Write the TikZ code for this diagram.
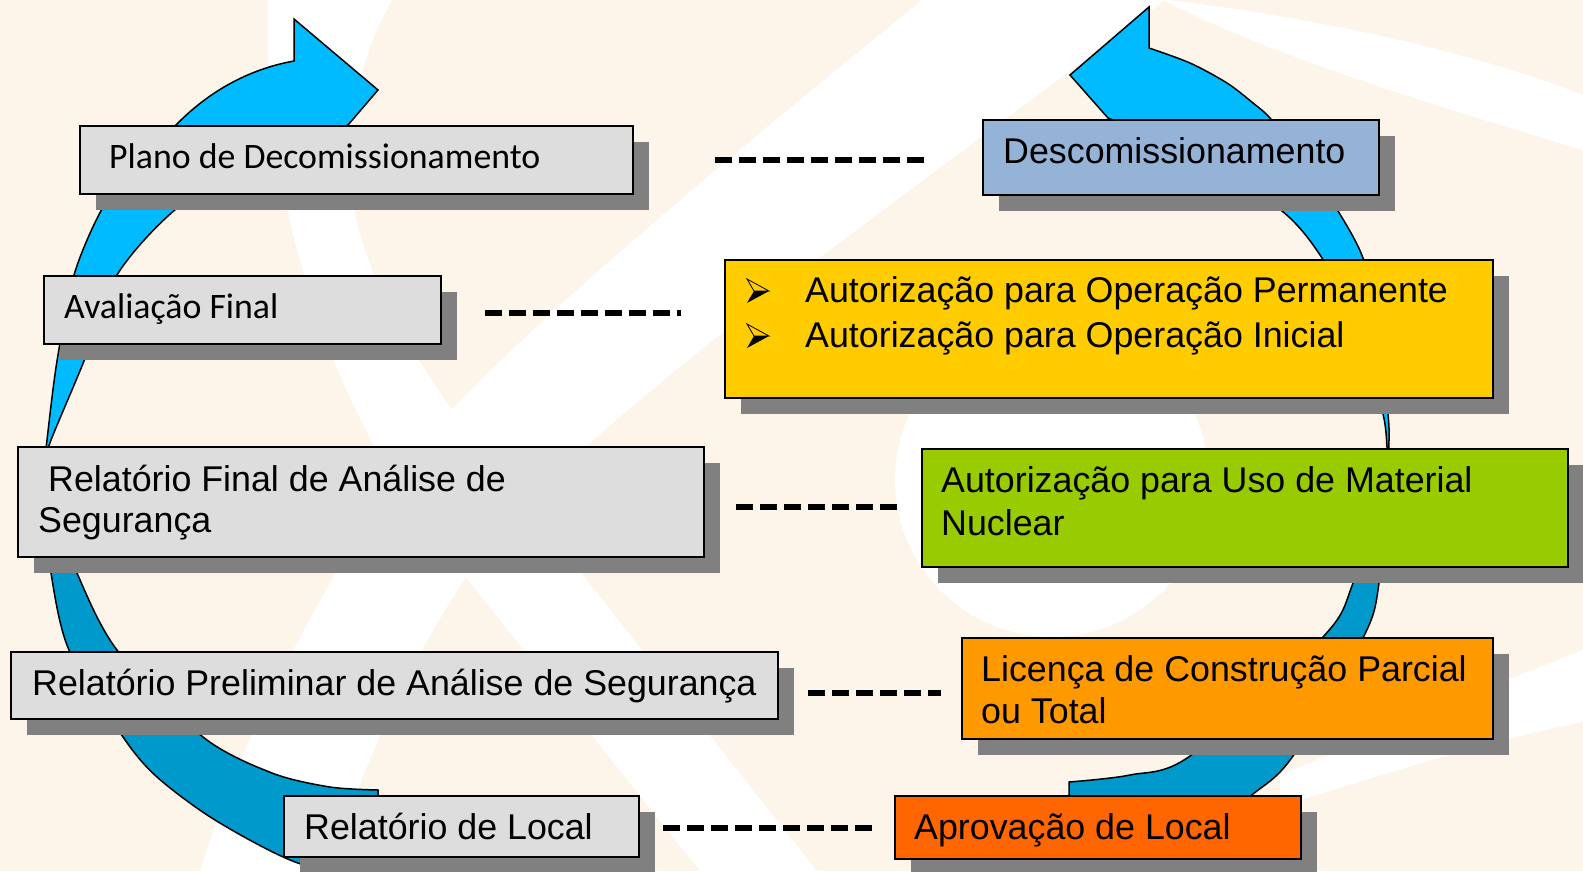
\documentclass[tikz,border=0pt]{standalone}
\usepackage{fontspec}
\setmainfont{Liberation Sans}
\newfontfamily\calib{Carlito}
\usetikzlibrary{shadows}
\definecolor{peach}{RGB}{253,244,234}
\definecolor{boxgray}{RGB}{221,221,221}
\definecolor{shadowgray}{RGB}{128,128,128}
\definecolor{descblue}{RGB}{149,179,215}
\definecolor{yel}{RGB}{255,204,0}
\definecolor{grn}{RGB}{153,204,0}
\definecolor{org}{RGB}{255,153,0}
\definecolor{dorg}{RGB}{255,102,0}
\definecolor{lblue}{RGB}{0,187,255}
\definecolor{dblue}{RGB}{0,153,204}
\begin{document}
\begin{tikzpicture}[x=1pt,y=-1pt,
  box/.style={draw=black, line width=2pt, inner sep=0pt, anchor=north west,
    drop shadow={shadow xshift=16pt, shadow yshift=-16pt, fill=shadowgray, opacity=1}},
  lbl/.style={anchor=base west, inner sep=0pt, font=\fontsize{35.8}{43}\selectfont},
  clbl/.style={anchor=base west, inner sep=0pt, font=\fontsize{35.8}{43}\selectfont\calib},
  dashline/.style={line width=6pt, dash pattern=on 17pt off 7pt},
  arrowpart/.style={draw=black, line width=1.5pt, line join=miter}]
\useasboundingbox (0,0) rectangle (1583,871);
\clip (0,0) rectangle (1583,871);
% background
\fill[peach] (0,0) rectangle (1583,871);
\fill[white] (922,0) .. controls (750,140) and (480,360) .. (400,470)
  .. controls (320,590) and (240,740) .. (200,871) -- (330,871)
  .. controls (370,740) and (430,620) .. (500,530)
  .. controls (640,380) and (900,200) .. (1165,0) -- cycle;
\fill[white] (268,0) .. controls (262,200) and (330,420) .. (460,570) -- (700,871) -- (817,871)
  -- (571,560) .. controls (500,470) and (340,300) .. (350,150)
  .. controls (355,80) and (370,40) .. (392,0) -- cycle;
\fill[white] (1052,480) circle[radius=157];
\fill[white] (1163,0) -- (1167,0) .. controls (1300,15) and (1470,50) .. (1583,95) -- (1583,150)
  .. controls (1450,110) and (1280,60) .. (1163,0) -- cycle;
\fill[white] (1280,806) .. controls (1400,770) and (1490,740) .. (1583,722) -- (1583,650)
  .. controls (1480,690) and (1390,730) .. (1280,775) -- cycle;
% left arrow
\filldraw[arrowpart, fill=lblue] (45,462)
  -- plot[smooth] coordinates {(45,462) (47,440) (57,361) (74,275) (102,209) (135,167) (176,125)}
  .. controls (213,87) and (255,68) .. (294,61)
  -- (294,19) -- (378,90) -- (348,125)
  -- plot[smooth] coordinates {(348,125) (250,165) (176,209) (117,275) (84,361) (51,440) (45,462)} -- cycle;
\filldraw[arrowpart, fill=dblue] (45,462)
  -- plot[smooth] coordinates {(45,462) (47,520) (51,573) (69,650) (123,737) (157,777) (215,820) (295,862) (378,882)}
  -- (378,790)
  -- plot[smooth] coordinates {(378,790) (330,787) (272,773) (203,737) (117,650) (77,573) (55,510) (45,462)} -- cycle;
% right arrow
\filldraw[arrowpart, fill=lblue] (1388,462)
  -- plot[smooth] coordinates {(1388,462) (1389,440) (1388,414) (1378,320) (1363,258) (1338,211) (1300,155) (1270,118) (1253,103) (1227,83) (1190,63) (1149,48)}
  -- (1149,7) -- (1070,75) -- (1108,118)
  -- plot[smooth] coordinates {(1108,118) (1200,160) (1282,211) (1322,258) (1360,330) (1383,414) (1387,447) (1388,462)} -- cycle;
\filldraw[arrowpart, fill=dblue] (1388,462)
  -- plot[smooth] coordinates {(1388,462) (1379,583) (1363,638) (1293,756) (1253,794) (1180,845) (1069,880)}
  -- (1069,782)
  -- plot[smooth] coordinates {(1069,782) (1130,775) (1190,756) (1322,638) (1353,583) (1388,462)} -- cycle;
% boxes
\node[box, fill=boxgray, minimum width=553pt, minimum height=68pt] (plano) at (79,125) {};
\node[box, fill=boxgray, minimum width=397pt, minimum height=68pt] (aval) at (43,275) {};
\node[box, fill=boxgray, minimum width=686pt, minimum height=110pt] (rfinal) at (17,446) {};
\node[box, fill=boxgray, minimum width=767pt, minimum height=67pt] (prelim) at (10,651) {};
\node[box, fill=boxgray, minimum width=355pt, minimum height=61pt] (local) at (283,795) {};
\node[box, fill=descblue, minimum width=396pt, minimum height=75pt] (descom) at (982,119) {};
\node[box, fill=yel, minimum width=768pt, minimum height=138pt] (yellow) at (724,259) {};
\node[box, fill=grn, minimum width=646pt, minimum height=118pt] (green) at (921,448) {};
\node[box, fill=org, minimum width=531pt, minimum height=101pt] (orange) at (961,637) {};
\node[box, fill=dorg, minimum width=406pt, minimum height=63pt] (aprov) at (894,795) {};
% texts
\node[clbl] (planoT) at (109,168) {Plano de Decomissionamento};
\node[clbl] (avalT) at (64,318) {Avaliação Final};
\node[lbl] (rfinalA) at (48,491) {Relatório Final de Análise de};
\node[lbl] (rfinalB) at (38,532) {Segurança};
\node[lbl] (prelimT) at (32,695) {Relatório Preliminar de Análise de Segurança};
\node[lbl] (localT) at (304,839) {Relatório de Local};
\node[lbl] (descomT) at (1003,163) {Descomissionamento};
\node[lbl] (yelA) at (805,302) {Autorização para Operação Permanente};
\node[lbl] (yelB) at (805,347) {Autorização para Operação Inicial};
\node[lbl] (grnA) at (941,492) {Autorização para Uso de Material};
\node[lbl] (grnB) at (941,535) {Nuclear};
\node[lbl] (orgA) at (981,681) {Licença de Construção Parcial};
\node[lbl] (orgB) at (981,723) {ou Total};
\node[lbl] (aprovT) at (914,839) {Aprovação de Local};
% bullets
\foreach \by in {302,347} {
  \fill (754,\by-11) -- (769,\by-11) -- (747,\by+1) -- cycle;
  \draw[line width=0.8pt, line join=miter] (747,\by-23) -- (769,\by-11) -- (754,\by-11) -- cycle;
}
% dashed connectors
\draw[dashline, shorten <=81pt, shorten >=57pt] (plano.east) -- (plano.east -| descom.west);
\draw[dashline, shorten <=43pt, shorten >=43pt] ([yshift=-3pt]aval.east) -- ([yshift=-3pt]aval.east -| yellow.west);
\draw[dashline, shorten <=31pt, shorten >=23pt] ([yshift=-5pt]rfinal.east) -- ([yshift=-5pt]rfinal.east -| green.west);
\draw[dashline, shorten <=29pt, shorten >=20pt] ([yshift=-7.5pt]prelim.east) -- ([yshift=-7.5pt]prelim.east -| orange.west);
\draw[dashline, shorten <=23pt, shorten >=21pt] ([yshift=-1.5pt]local.east) -- ([yshift=-1.5pt]local.east -| aprov.west);
\end{tikzpicture}
\end{document}
